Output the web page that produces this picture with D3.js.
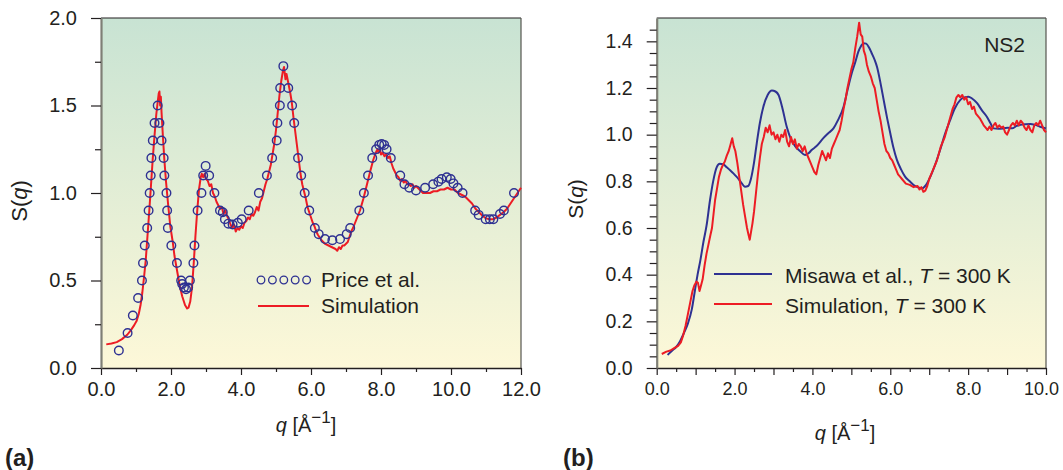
<!DOCTYPE html>
<html><head><meta charset="utf-8">
<script src="https://cdn.jsdelivr.net/npm/d3@7"></script>
<style>
body{margin:0;background:#fff}
text{font-family:"Liberation Sans",Arial,Helvetica,sans-serif;fill:#231f20}
</style>
</head><body>
<svg id="c" width="1063" height="470"></svg>
<script>
// ---------- Panel (a) data ----------
const priceQ=[0.51,0.76,0.91,1.06,1.17,1.20,1.25,1.32,1.36,1.39,1.42,1.44,1.48,1.53,1.62,1.67,1.73,1.79,1.81,1.87,1.89,1.91,2.01,2.17,2.29,2.32,2.37,2.43,2.49,2.54,2.64,2.67,2.76,2.87,2.92,2.99,3.09,3.24,3.40,3.48,3.54,3.64,3.76,3.91,4.02,4.22,4.51,4.74,4.89,5.02,5.04,5.11,5.12,5.21,5.35,5.46,5.52,5.63,5.72,5.82,5.95,6.11,6.22,6.40,6.61,6.83,7.02,7.12,7.38,7.51,7.63,7.75,7.86,7.95,8.02,8.09,8.16,8.28,8.55,8.67,8.81,9.00,9.26,9.49,9.64,9.73,9.88,9.99,10.07,10.19,10.33,10.69,10.79,10.99,11.11,11.21,11.40,11.51,11.80];
const priceS=[0.10,0.20,0.30,0.40,0.50,0.60,0.70,0.80,0.90,1.00,1.10,1.20,1.30,1.40,1.50,1.40,1.30,1.20,1.10,1.00,0.90,0.80,0.70,0.60,0.50,0.48,0.46,0.45,0.46,0.50,0.60,0.70,0.90,1.00,1.10,1.155,1.10,1.00,0.90,0.89,0.85,0.825,0.82,0.83,0.85,0.90,1.00,1.10,1.20,1.30,1.40,1.50,1.60,1.725,1.60,1.50,1.40,1.20,1.10,1.00,0.90,0.80,0.765,0.737,0.73,0.737,0.765,0.80,0.90,1.00,1.10,1.20,1.25,1.275,1.28,1.275,1.25,1.20,1.10,1.05,1.03,1.015,1.03,1.05,1.065,1.08,1.09,1.08,1.055,1.03,1.00,0.90,0.875,0.85,0.85,0.85,0.88,0.90,1.00];

const simAQ=[0.15,0.3,0.45,0.6,0.75,0.85,0.95,1.02,1.08,1.13,1.18,1.23,1.28,1.33,1.38,1.43,1.48,1.53,1.58,1.62,1.65,1.67,1.69,1.71,1.73,1.77,1.81,1.86,1.92,1.98,2.05,2.1,2.17,2.25,2.32,2.4,2.46,2.5,2.55,2.6,2.65,2.7,2.75,2.8,2.85,2.88,2.92,2.96,3.0,3.05,3.1,3.15,3.2,3.25,3.3,3.35,3.4,3.45,3.5,3.55,3.6,3.65,3.7,3.75,3.8,3.85,3.9,3.95,4.0,4.05,4.1,4.15,4.2,4.25,4.3,4.35,4.4,4.45,4.5,4.55,4.6,4.65,4.7,4.75,4.8,4.85,4.9,4.95,5.0,5.05,5.1,5.15,5.2,5.23,5.27,5.3,5.35,5.4,5.45,5.5,5.55,5.6,5.65,5.7,5.75,5.8,5.85,5.9,5.95,6.0,6.05,6.1,6.15,6.2,6.3,6.4,6.5,6.6,6.7,6.75,6.8,6.85,6.9,6.95,7.0,7.05,7.1,7.15,7.2,7.3,7.4,7.5,7.6,7.7,7.78,7.85,7.9,7.93,7.97,8.0,8.05,8.1,8.15,8.2,8.25,8.3,8.35,8.4,8.45,8.5,8.55,8.6,8.65,8.7,8.75,8.8,8.85,8.9,8.95,9.0,9.1,9.2,9.3,9.4,9.5,9.6,9.7,9.8,9.9,10.0,10.1,10.2,10.3,10.4,10.5,10.6,10.7,10.8,10.9,11.0,11.1,11.2,11.3,11.4,11.5,11.6,11.7,11.8,11.9,12.0];
const simAS=[0.135,0.14,0.148,0.165,0.19,0.215,0.245,0.27,0.31,0.36,0.43,0.52,0.62,0.76,0.9,1.05,1.2,1.33,1.45,1.52,1.57,1.58,1.50,1.55,1.46,1.32,1.19,1.06,0.93,0.81,0.72,0.64,0.56,0.47,0.41,0.36,0.34,0.345,0.38,0.46,0.6,0.76,0.9,1.02,1.09,1.11,1.09,1.11,1.08,1.07,1.04,1.05,1.0,0.98,0.95,0.93,0.91,0.92,0.88,0.9,0.87,0.85,0.82,0.80,0.82,0.78,0.80,0.79,0.81,0.80,0.83,0.84,0.86,0.85,0.88,0.87,0.89,0.92,0.90,0.95,0.97,1.01,1.05,1.08,1.12,1.16,1.22,1.28,1.36,1.46,1.56,1.64,1.70,1.72,1.65,1.68,1.63,1.58,1.52,1.43,1.35,1.27,1.19,1.11,1.05,1.01,0.97,0.92,0.89,0.86,0.83,0.81,0.78,0.76,0.73,0.71,0.70,0.69,0.68,0.67,0.69,0.68,0.70,0.70,0.71,0.72,0.75,0.78,0.80,0.85,0.90,0.97,1.05,1.13,1.19,1.23,1.25,1.23,1.25,1.22,1.23,1.21,1.22,1.20,1.21,1.17,1.14,1.12,1.10,1.09,1.07,1.08,1.06,1.07,1.05,1.05,1.04,1.05,1.03,1.04,1.02,1.0,1.0,1.0,1.01,1.01,1.02,1.02,1.03,1.02,1.02,1.0,0.99,0.98,0.96,0.94,0.91,0.89,0.87,0.855,0.85,0.85,0.86,0.875,0.89,0.91,0.94,0.97,1.0,1.03];

const xTicksA=[0,2,4,6,8,10,12], xMinorA=[1,3,5,7,9,11];
const yTicksA=[0,0.5,1.0,1.5,2.0], yMinorA=[0.25,0.75,1.25,1.75];

// ---------- Panel (b) data ----------
const misQ=[0.28,0.4,0.5,0.6,0.7,0.8,0.9,0.98,1.05,1.12,1.2,1.28,1.37,1.45,1.54,1.62,1.71,1.8,1.9,1.97,2.05,2.15,2.27,2.35,2.42,2.5,2.57,2.65,2.74,2.85,2.96,3.05,3.13,3.22,3.34,3.45,3.56,3.68,3.81,3.9,3.98,4.1,4.28,4.4,4.54,4.65,4.8,4.9,5.01,5.1,5.18,5.25,5.31,5.38,5.45,5.52,5.6,5.66,5.75,5.83,5.92,6.0,6.08,6.17,6.28,6.38,6.5,6.6,6.7,6.81,6.92,7.03,7.15,7.28,7.4,7.54,7.65,7.8,7.9,8.01,8.1,8.23,8.35,8.48,8.57,8.65,8.78,8.91,9.02,9.13,9.25,9.34,9.47,9.6,9.72,9.85,10.0];
const misS=[0.056,0.075,0.09,0.115,0.15,0.19,0.25,0.33,0.40,0.46,0.54,0.61,0.72,0.8,0.86,0.875,0.873,0.86,0.845,0.834,0.82,0.80,0.777,0.78,0.81,0.88,0.963,1.05,1.12,1.17,1.189,1.185,1.17,1.12,1.034,0.98,0.95,0.93,0.913,0.92,0.934,0.95,0.985,1.005,1.027,1.06,1.12,1.19,1.263,1.31,1.356,1.38,1.392,1.39,1.375,1.35,1.32,1.29,1.22,1.149,1.07,1.006,0.945,0.892,0.85,0.82,0.80,0.784,0.775,0.77,0.785,0.82,0.87,0.934,1.0,1.063,1.11,1.149,1.16,1.163,1.155,1.135,1.105,1.077,1.05,1.027,1.025,1.027,1.03,1.027,1.038,1.042,1.045,1.046,1.042,1.034,1.027];

const simBQ=[0.13,0.25,0.35,0.45,0.55,0.62,0.68,0.74,0.8,0.86,0.92,0.97,1.02,1.06,1.1,1.14,1.18,1.23,1.28,1.33,1.38,1.42,1.46,1.5,1.55,1.6,1.65,1.7,1.75,1.8,1.85,1.9,1.94,1.98,2.02,2.07,2.12,2.17,2.22,2.27,2.32,2.36,2.39,2.42,2.46,2.5,2.55,2.6,2.65,2.7,2.75,2.8,2.85,2.9,2.95,3.0,3.05,3.1,3.15,3.2,3.25,3.3,3.35,3.4,3.45,3.5,3.55,3.6,3.65,3.7,3.75,3.8,3.85,3.9,3.95,4.0,4.05,4.1,4.15,4.2,4.25,4.3,4.35,4.4,4.45,4.5,4.55,4.6,4.65,4.7,4.75,4.8,4.85,4.9,4.95,5.0,5.05,5.1,5.15,5.2,5.24,5.28,5.32,5.36,5.4,5.45,5.5,5.55,5.6,5.65,5.7,5.75,5.8,5.85,5.9,5.95,6.0,6.05,6.1,6.15,6.2,6.25,6.3,6.4,6.5,6.6,6.7,6.75,6.8,6.85,6.9,6.95,7.0,7.05,7.1,7.15,7.2,7.3,7.4,7.5,7.6,7.65,7.7,7.75,7.8,7.85,7.9,7.95,8.0,8.05,8.1,8.15,8.2,8.3,8.4,8.45,8.5,8.55,8.6,8.65,8.7,8.75,8.8,8.85,8.9,8.95,9.0,9.05,9.1,9.15,9.2,9.25,9.3,9.35,9.4,9.45,9.5,9.55,9.6,9.65,9.7,9.75,9.8,9.85,9.9,9.95,10.0];
const simBS=[0.06,0.07,0.075,0.085,0.095,0.11,0.14,0.18,0.23,0.28,0.33,0.355,0.37,0.365,0.33,0.355,0.38,0.44,0.49,0.53,0.57,0.6,0.66,0.72,0.77,0.82,0.85,0.87,0.885,0.91,0.93,0.96,0.985,0.95,0.93,0.88,0.82,0.76,0.70,0.65,0.60,0.57,0.55,0.58,0.62,0.67,0.75,0.83,0.9,0.96,0.99,1.03,1.01,1.04,1.0,1.01,0.98,1.0,0.97,1.0,0.99,1.02,0.97,0.95,0.99,0.96,0.98,0.94,0.96,0.95,0.93,0.95,0.92,0.90,0.88,0.86,0.84,0.83,0.87,0.9,0.93,0.91,0.89,0.92,0.90,0.94,0.96,0.98,1.0,1.02,1.06,1.11,1.15,1.2,1.24,1.28,1.31,1.37,1.42,1.48,1.43,1.42,1.36,1.34,1.30,1.27,1.25,1.22,1.20,1.15,1.10,1.06,1.01,0.96,0.93,0.92,0.9,0.89,0.87,0.85,0.83,0.82,0.81,0.79,0.785,0.775,0.78,0.765,0.775,0.755,0.76,0.78,0.81,0.83,0.85,0.87,0.89,0.95,0.99,1.05,1.11,1.13,1.16,1.17,1.16,1.17,1.15,1.16,1.13,1.14,1.11,1.12,1.09,1.07,1.04,1.03,1.02,1.035,1.02,1.04,1.05,1.03,1.04,1.03,1.035,1.01,1.0,1.02,1.04,1.05,1.04,1.06,1.04,1.06,1.05,1.03,1.02,1.04,1.02,1.01,1.04,1.05,1.04,1.06,1.04,1.02,1.01];

const xTicksB=[0,2,4,6,8,10], xMidB=[1,3,5,7,9], xMinorB=[0.5,1.5,2.5,3.5,4.5,5.5,6.5,7.5,8.5,9.5];
const yTicksB=[0,0.2,0.4,0.6,0.8,1.0,1.2,1.4];
const yMinorB=[0.05,0.1,0.15,0.25,0.3,0.35,0.45,0.5,0.55,0.65,0.7,0.75,0.85,0.9,0.95,1.05,1.1,1.15,1.25,1.3,1.35,1.45];

// ---------- Drawing ----------
const svg=d3.select("#c");
const RED="#ed1c24", BLUE="#2e3192";
const defs=svg.append("defs");
const grad=defs.append("linearGradient").attr("id","bg").attr("x1",0).attr("y1",0).attr("x2",0).attr("y2",1);
grad.append("stop").attr("offset","0%").attr("stop-color","#c8e3d3");
grad.append("stop").attr("offset","100%").attr("stop-color","#fdf8d8");

function panel(o){
  const x=d3.scaleLinear().domain(o.xd).range([o.x0,o.x1]);
  const y=d3.scaleLinear().domain(o.yd).range([o.y0,o.y1]);
  const g=svg.append("g");
  g.append("rect").attr("x",o.x0).attr("y",o.y1).attr("width",o.x1-o.x0).attr("height",o.y0-o.y1).attr("fill","url(#bg)");
  g.append("line").attr("x1",o.x0).attr("x2",o.x1).attr("y1",o.y1).attr("y2",o.y1).attr("stroke","#231f20").attr("stroke-width",1.2);
  g.append("line").attr("x1",o.x1).attr("x2",o.x1).attr("y1",o.y1).attr("y2",o.y0).attr("stroke","#55554f").attr("stroke-width",1.2);
  const fmt=d3.format(".1f");
  const ax=g.append("g").attr("transform",`translate(0,${o.y0})`).call(d3.axisBottom(x).tickValues(o.xt).tickFormat(fmt).tickSize(o.xtl).tickSizeOuter(0).tickPadding(o.xpad));
  g.append("g").attr("transform",`translate(0,${o.y0})`).call(d3.axisBottom(x).tickValues(o.xm).tickFormat("").tickSize(o.xml).tickSizeOuter(0)).select(".domain").remove();
  if(o.xmm) g.append("g").attr("transform",`translate(0,${o.y0})`).call(d3.axisBottom(x).tickValues(o.xmm).tickFormat("").tickSize(o.xmml).tickSizeOuter(0)).select(".domain").remove();
  const ay=g.append("g").attr("transform",`translate(${o.x0},0)`).call(d3.axisLeft(y).tickValues(o.yt).tickFormat(fmt).tickSize(o.ytl).tickSizeOuter(0).tickPadding(o.ypad));
  g.append("g").attr("transform",`translate(${o.x0},0)`).call(d3.axisLeft(y).tickValues(o.ym).tickFormat("").tickSize(o.yml).tickSizeOuter(0)).select(".domain").remove();
  svg.selectAll(".tick line").attr("stroke","#231f20").attr("stroke-width",1.2);
  ax.select(".domain").attr("stroke","#231f20").attr("stroke-width",1.5);
  ay.select(".domain").attr("stroke","#7f7f76").attr("stroke-width",2.2);
  ax.selectAll("text").attr("font-size",o.xfs).attr("fill","#231f20").attr("font-family","'Liberation Sans',Arial,sans-serif");
  ay.selectAll("text").attr("font-size",o.yfs).attr("fill","#231f20").attr("font-family","'Liberation Sans',Arial,sans-serif");
  return {x,y,g,ax};
}

function axisLabels(cx,by,yx,yc,fs,yfs){
  const t=svg.append("text").attr("x",cx).attr("y",by).attr("text-anchor","middle").attr("font-size",fs);
  t.append("tspan").attr("font-style","italic").text("q");
  t.append("tspan").text(" [Å");
  t.append("tspan").attr("dy",-9).attr("font-size",fs*0.85).text("\u22121");
  t.append("tspan").attr("dy",9).text("]");
  const s=svg.append("text").attr("transform",`translate(${yx},${yc}) rotate(-90)`).attr("text-anchor","middle").attr("font-size",yfs);
  s.append("tspan").text("S(");
  s.append("tspan").attr("font-style","italic").text("q");
  s.append("tspan").text(")");
}

// Panel (a)
const A=panel({xd:[0,12],yd:[0,2],x0:101,x1:521,y0:368,y1:18,xt:xTicksA,xm:xMinorA,xtl:7,xml:4,xpad:7,yt:yTicksA,ym:yMinorA,ytl:10,yml:6,ypad:14,xfs:20,yfs:20});
const lineA=d3.line().x((d,i)=>A.x(simAQ[i])).y((d,i)=>A.y(simAS[i])).curve(d3.curveLinear);
A.g.append("path").attr("d",lineA(simAQ)).attr("fill","none").attr("stroke",RED).attr("stroke-width",2).attr("stroke-linejoin","round");
A.g.selectAll("circle.p").data(priceQ).enter().append("circle").attr("class","p")
  .attr("cx",(d)=>A.x(d)).attr("cy",(d,i)=>A.y(priceS[i])).attr("r",4.3)
  .attr("fill","none").attr("stroke",BLUE).attr("stroke-width",1.4);
const legCirc=[0,1,2,3,4];
A.g.selectAll("circle.l").data(legCirc).enter().append("circle").attr("class","l")
  .attr("cx",d=>261+d*11.4).attr("cy",280).attr("r",3.8).attr("fill","none").attr("stroke",BLUE).attr("stroke-width",1.3);
A.g.append("text").attr("x",321).attr("y",287).attr("font-size",21).text("Price et al.");
A.g.append("line").attr("x1",258).attr("x2",309).attr("y1",306).attr("y2",306).attr("stroke",RED).attr("stroke-width",2);
A.g.append("text").attr("x",321).attr("y",313).attr("font-size",21).text("Simulation");
axisLabels(306,432,27,201,20,22);
svg.append("text").attr("x",5).attr("y",466).attr("font-size",24).attr("font-weight","bold").text("(a)");

// Panel (b)
const B=panel({xd:[0,10],yd:[0,1.5],x0:656.7,x1:1046,y0:368,y1:18,xt:xTicksB,xm:xMinorB,xmm:xMidB,xtl:7,xml:4,xmml:7,xpad:7,yt:yTicksB,ym:yMinorB,ytl:10,yml:7,ypad:14,xfs:18,yfs:19.5});
// keep the last x label inside the page, as in the reference
B.ax.selectAll(".tick text").filter(d=>d===10).attr("dx",-5);
const lineMis=d3.line().x((d,i)=>B.x(misQ[i])).y((d,i)=>B.y(misS[i])).curve(d3.curveMonotoneX);
const lineSimB=d3.line().x((d,i)=>B.x(simBQ[i])).y((d,i)=>B.y(simBS[i])).curve(d3.curveLinear);
B.g.append("path").attr("d",lineMis(misQ)).attr("fill","none").attr("stroke",BLUE).attr("stroke-width",2);
B.g.append("path").attr("d",lineSimB(simBQ)).attr("fill","none").attr("stroke",RED).attr("stroke-width",2).attr("stroke-linejoin","round");
B.g.append("line").attr("x1",714).attr("x2",772).attr("y1",274).attr("y2",274).attr("stroke",BLUE).attr("stroke-width",2);
B.g.append("line").attr("x1",714).attr("x2",772).attr("y1",304).attr("y2",304).attr("stroke",RED).attr("stroke-width",2);
function legB(yb,label){
  const t=B.g.append("text").attr("x",785).attr("y",yb).attr("font-size",21);
  t.append("tspan").text(label+", ");
  t.append("tspan").attr("font-style","italic").text("T");
  t.append("tspan").text(" = 300 K");
}
legB(283,"Misawa et al.");
legB(313,"Simulation");
B.g.append("text").attr("x",1025).attr("y",52).attr("text-anchor","end").attr("font-size",21).text("NS2");
axisLabels(845,440,583,199,20,21);
svg.append("text").attr("x",563).attr("y",466).attr("font-size",24).attr("font-weight","bold").text("(b)");
</script>
</body></html>
